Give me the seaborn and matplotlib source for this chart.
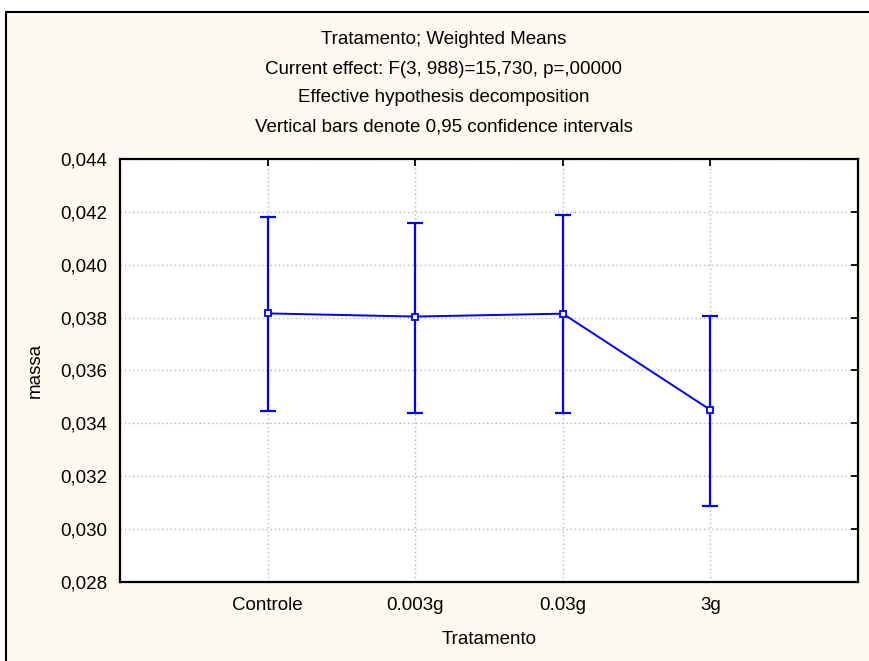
import numpy as np
import pandas as pd
import matplotlib
matplotlib.use("Agg")
import matplotlib.pyplot as plt
from matplotlib.patches import Rectangle
from matplotlib.ticker import FuncFormatter, MultipleLocator
import seaborn as sns

# Weighted means of "massa" per treatment with 95% confidence limits
categories = ["Controle", "0.003g", "0.03g", "3g"]
means = [0.03816, 0.03804, 0.03815, 0.03451]
ci_low = [0.03448, 0.03440, 0.03440, 0.03088]
ci_high = [0.04180, 0.04157, 0.04187, 0.03806]

title_lines = [
    "Tratamento; Weighted Means",
    "Current effect: F(3, 988)=15,730, p=,00000",
    "Effective hypothesis decomposition",
    "Vertical bars denote 0,95 confidence intervals",
]

sns.set_theme(style="white")
plt.rcParams["font.family"] = ["Liberation Sans", "DejaVu Sans"]

W, H = 870, 661
FS = 13.5
fig = plt.figure(figsize=(W / 100, H / 100), dpi=100, facecolor="white")

# cream panel with a black frame behind everything
fig.patches.append(Rectangle((6 / W, -0.05), 2.0, 1 - 12 / H + 0.05,
                             transform=fig.transFigure, facecolor="#FFFAF0",
                             edgecolor="black", linewidth=1.5, zorder=-10))

ax = fig.add_axes([120 / W, 1 - 582 / H, (858 - 120) / W, (582 - 159) / H])
ax.set_facecolor("white")

df = pd.DataFrame({"Tratamento": categories, "massa": means})
blue = "#0000FF"

ax.errorbar(np.arange(len(categories)), means,
            yerr=[np.subtract(means, ci_low), np.subtract(ci_high, means)],
            fmt="none", ecolor=blue, elinewidth=1.6, capsize=5.8,
            capthick=1.6, zorder=3)

sns.pointplot(data=df, x="Tratamento", y="massa", order=categories,
              errorbar=None, color=blue, markers="s", ax=ax,
              linewidth=1.4, markersize=5, markerfacecolor="white",
              markeredgecolor=blue, markeredgewidth=1.3, zorder=4)

ax.set_xlim(-1, 4)
ax.set_ylim(0.028, 0.044)
ax.yaxis.set_major_locator(MultipleLocator(0.002))
ax.yaxis.set_major_formatter(FuncFormatter(lambda v, p: f"{v:.3f}".replace(".", ",")))

ax.grid(True, linestyle=(0, (1, 2)), color="#b4b4b4", linewidth=1.0)
ax.set_axisbelow(True)
for s in ax.spines.values():
    s.set_visible(True)
    s.set_color("black")
    s.set_linewidth(1.6)

ax.tick_params(direction="in", top=True, right=True, length=5, width=1.3,
               labelsize=FS, colors="black", pad=9)
ax.tick_params(axis="x", pad=11)

ax.set_xlabel("Tratamento", fontsize=FS, color="black", va="center")
ax.set_ylabel("massa", fontsize=FS, color="black", va="center")
ax.xaxis.set_label_coords(0.5, (582 - 640) / 423)
ax.yaxis.set_label_coords((35 - 120) / 738, 0.5)

for i, line in enumerate(title_lines):
    fig.text(444 / W, 1 - (40 + 29.0 * i) / H, line, ha="center", va="center",
             fontsize=FS, color="black")

fig.savefig("out.png", dpi=100, facecolor=fig.get_facecolor())
